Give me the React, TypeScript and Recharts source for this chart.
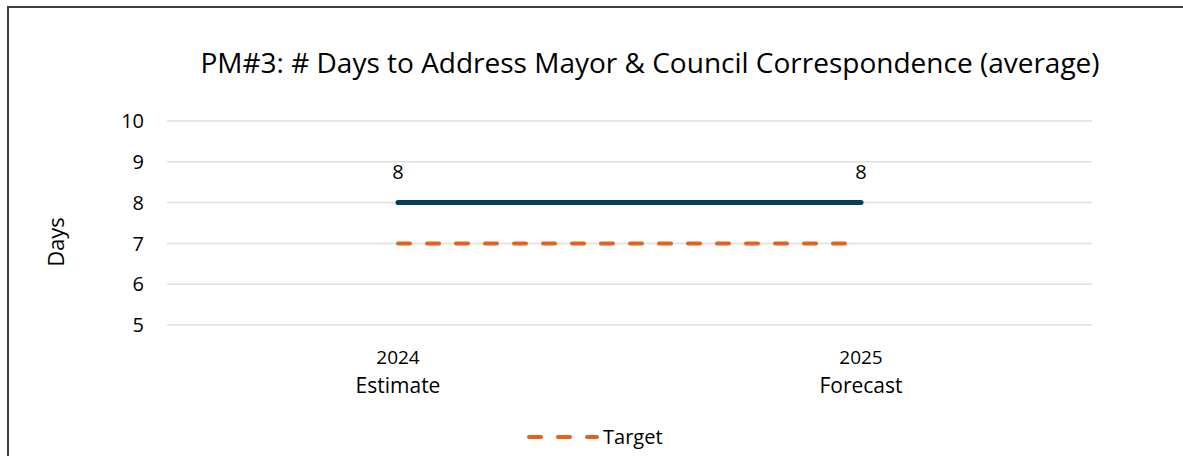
import React from "react";
import { LineChart, Line, XAxis, YAxis, CartesianGrid, LabelList } from "recharts";

const years = ["2024", "2025"];
const kinds = ["Estimate", "Forecast"];
const actualDays = [8, 8];
const targetDays = [7, 7];
const yTicks = [5, 6, 7, 8, 9, 10];

const data = years.map((year, i) => ({
  label: year,
  kind: kinds[i],
  days: actualDays[i],
  target: targetDays[i],
}));

const FONT = "'Open Sans', sans-serif";
const NAVY = "#053f5c";
const ORANGE = "#e8601c";

const YearTick = (props: any) => {
  const { x, y, payload, index } = props;
  return (
    <g>
      <text x={x} y={y + 31} textAnchor="middle" fontSize={19} fontFamily={FONT} fill="#000">
        {payload.value}
      </text>
      <text x={x} y={y + 60} textAnchor="middle" fontSize={21} fontFamily={FONT} fill="#000">
        {kinds[index]}
      </text>
    </g>
  );
};

export default function App() {
  return (
    <div
      style={{
        position: "absolute",
        left: 0,
        top: 0,
        width: 1183,
        height: 456,
        overflow: "hidden",
        background: "#fff",
        fontFamily: FONT,
      }}
    >
      <div
        style={{
          position: "absolute",
          left: 7,
          top: 6,
          width: 1220,
          height: 520,
          border: "2px solid #3f3f3f",
        }}
      />
      <div
        style={{
          position: "absolute",
          left: 650,
          top: 62,
          transform: "translate(-50%, -50%)",
          whiteSpace: "nowrap",
          fontSize: 28,
          color: "#000",
        }}
      >
        PM#3: # Days to Address Mayor &amp; Council Correspondence (average)
      </div>
      <div
        style={{
          position: "absolute",
          left: 55,
          top: 242,
          transform: "translate(-50%, -50%) rotate(-90deg)",
          fontSize: 22,
          color: "#000",
        }}
      >
        Days
      </div>

      <LineChart
        width={1183}
        height={456}
        data={data}
        margin={{ top: 121, right: 91, bottom: 71, left: 0 }}
        style={{ position: "absolute", left: 0, top: 0 }}
      >
        <CartesianGrid vertical={false} stroke="#e0e0e0" strokeWidth={1.5} />
        <XAxis
          dataKey="label"
          axisLine={false}
          tickLine={false}
          height={60}
          padding={{ left: 231, right: 231 }}
          tick={<YearTick />}
          interval={0}
        />
        <YAxis
          width={167}
          domain={[5, 10]}
          ticks={yTicks}
          axisLine={false}
          tickLine={false}
          tickMargin={17}
          tick={{ fontSize: 20, fontFamily: FONT, fill: "#000" }}
        />
        <Line
          dataKey="days"
          stroke={NAVY}
          strokeWidth={5}
          strokeLinecap="round"
          dot={false}
          activeDot={false}
          legendType="none"
          isAnimationActive={false}
        >
          <LabelList
            dataKey="days"
            position="top"
            offset={24}
            style={{ fontSize: 20, fontFamily: FONT, fill: "#000" }}
          />
        </Line>
        <Line
          dataKey="target"
          stroke={ORANGE}
          strokeWidth={4}
          strokeDasharray="12 17"
          strokeLinecap="round"
          dot={false}
          activeDot={false}
          isAnimationActive={false}
        />
      </LineChart>

      <div
        style={{
          position: "absolute",
          left: 525,
          top: 423,
          display: "flex",
          alignItems: "center",
          fontSize: 20,
          color: "#000",
        }}
      >
        <svg width={74} height={10} style={{ marginRight: 4 }}>
          <line
            x1={4}
            y1={5}
            x2={72}
            y2={5}
            stroke={ORANGE}
            strokeWidth={4}
            strokeDasharray="12 17"
            strokeLinecap="round"
          />
        </svg>
        <span>Target</span>
      </div>
    </div>
  );
}
